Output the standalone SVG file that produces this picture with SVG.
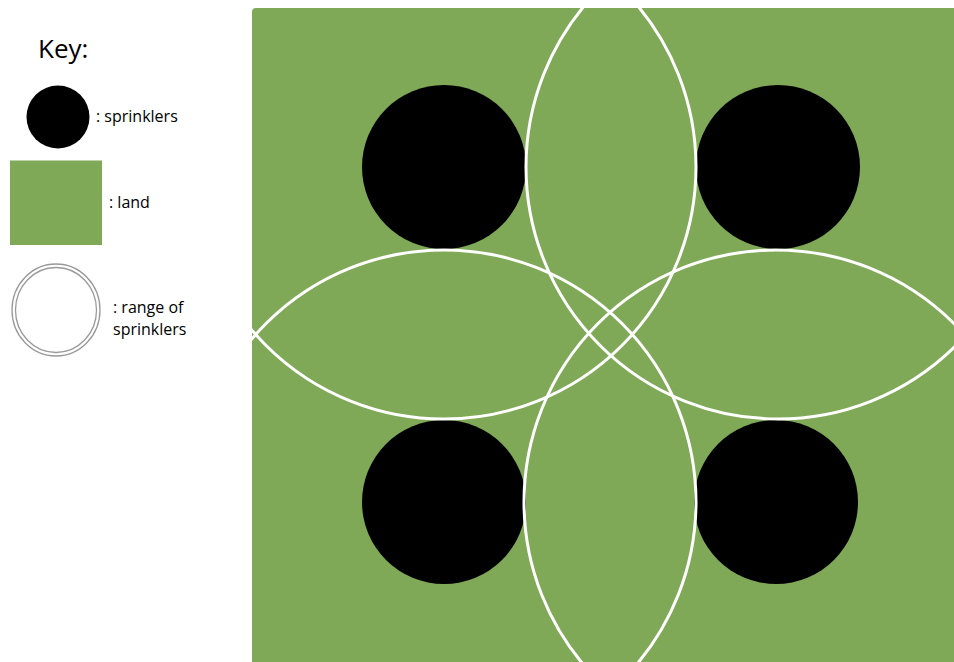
<svg xmlns="http://www.w3.org/2000/svg" width="954" height="662" viewBox="0 0 954 662">
<style>
text{font-family:"Open Sans","Liberation Sans",sans-serif;fill:#000}
.lbl{font-size:16px}
.range{fill:none;stroke:#fff;stroke-width:3}
.spr{fill:#000}
</style>
<defs>
<clipPath id="land"><rect x="252" y="8" width="710" height="660" rx="4"/></clipPath>
</defs>
<rect width="954" height="662" fill="#fff"/>
<g id="key">
<text x="38" y="58" font-size="26">Key:</text>
<circle cx="58" cy="117" r="31.5" class="spr"/>
<text x="96" y="122" class="lbl">: sprinklers</text>
<rect x="10" y="160.5" width="92" height="84.5" fill="#7fa857"/>
<text x="109" y="208" class="lbl">: land</text>
<ellipse cx="56" cy="310" rx="44" ry="46" fill="none" stroke="#999" stroke-width="1.3"/>
<ellipse cx="56" cy="310" rx="40.5" ry="42.5" fill="none" stroke="#999" stroke-width="1.3"/>
<text x="113" y="313" class="lbl">: range of</text>
<text x="113" y="335" class="lbl">sprinklers</text>
</g>
<g id="land-area">
<rect x="252" y="8" width="710" height="660" rx="4" fill="#7fa857"/>
</g>
<g id="sprinklers">
<circle id="s1" cx="444" cy="167" r="82" class="spr"/>
<circle id="s2" cx="778" cy="167" r="82" class="spr"/>
<circle id="s3" cx="444" cy="502" r="82" class="spr"/>
<circle id="s4" cx="776" cy="502" r="82" class="spr"/>
</g>
<g id="ranges" clip-path="url(#land)">
<circle cx="444" cy="167" r="252" class="range"/>
<circle cx="778" cy="167" r="252" class="range"/>
<circle cx="444" cy="502" r="252" class="range"/>
<circle cx="776" cy="502" r="252" class="range"/>
</g>
</svg>
